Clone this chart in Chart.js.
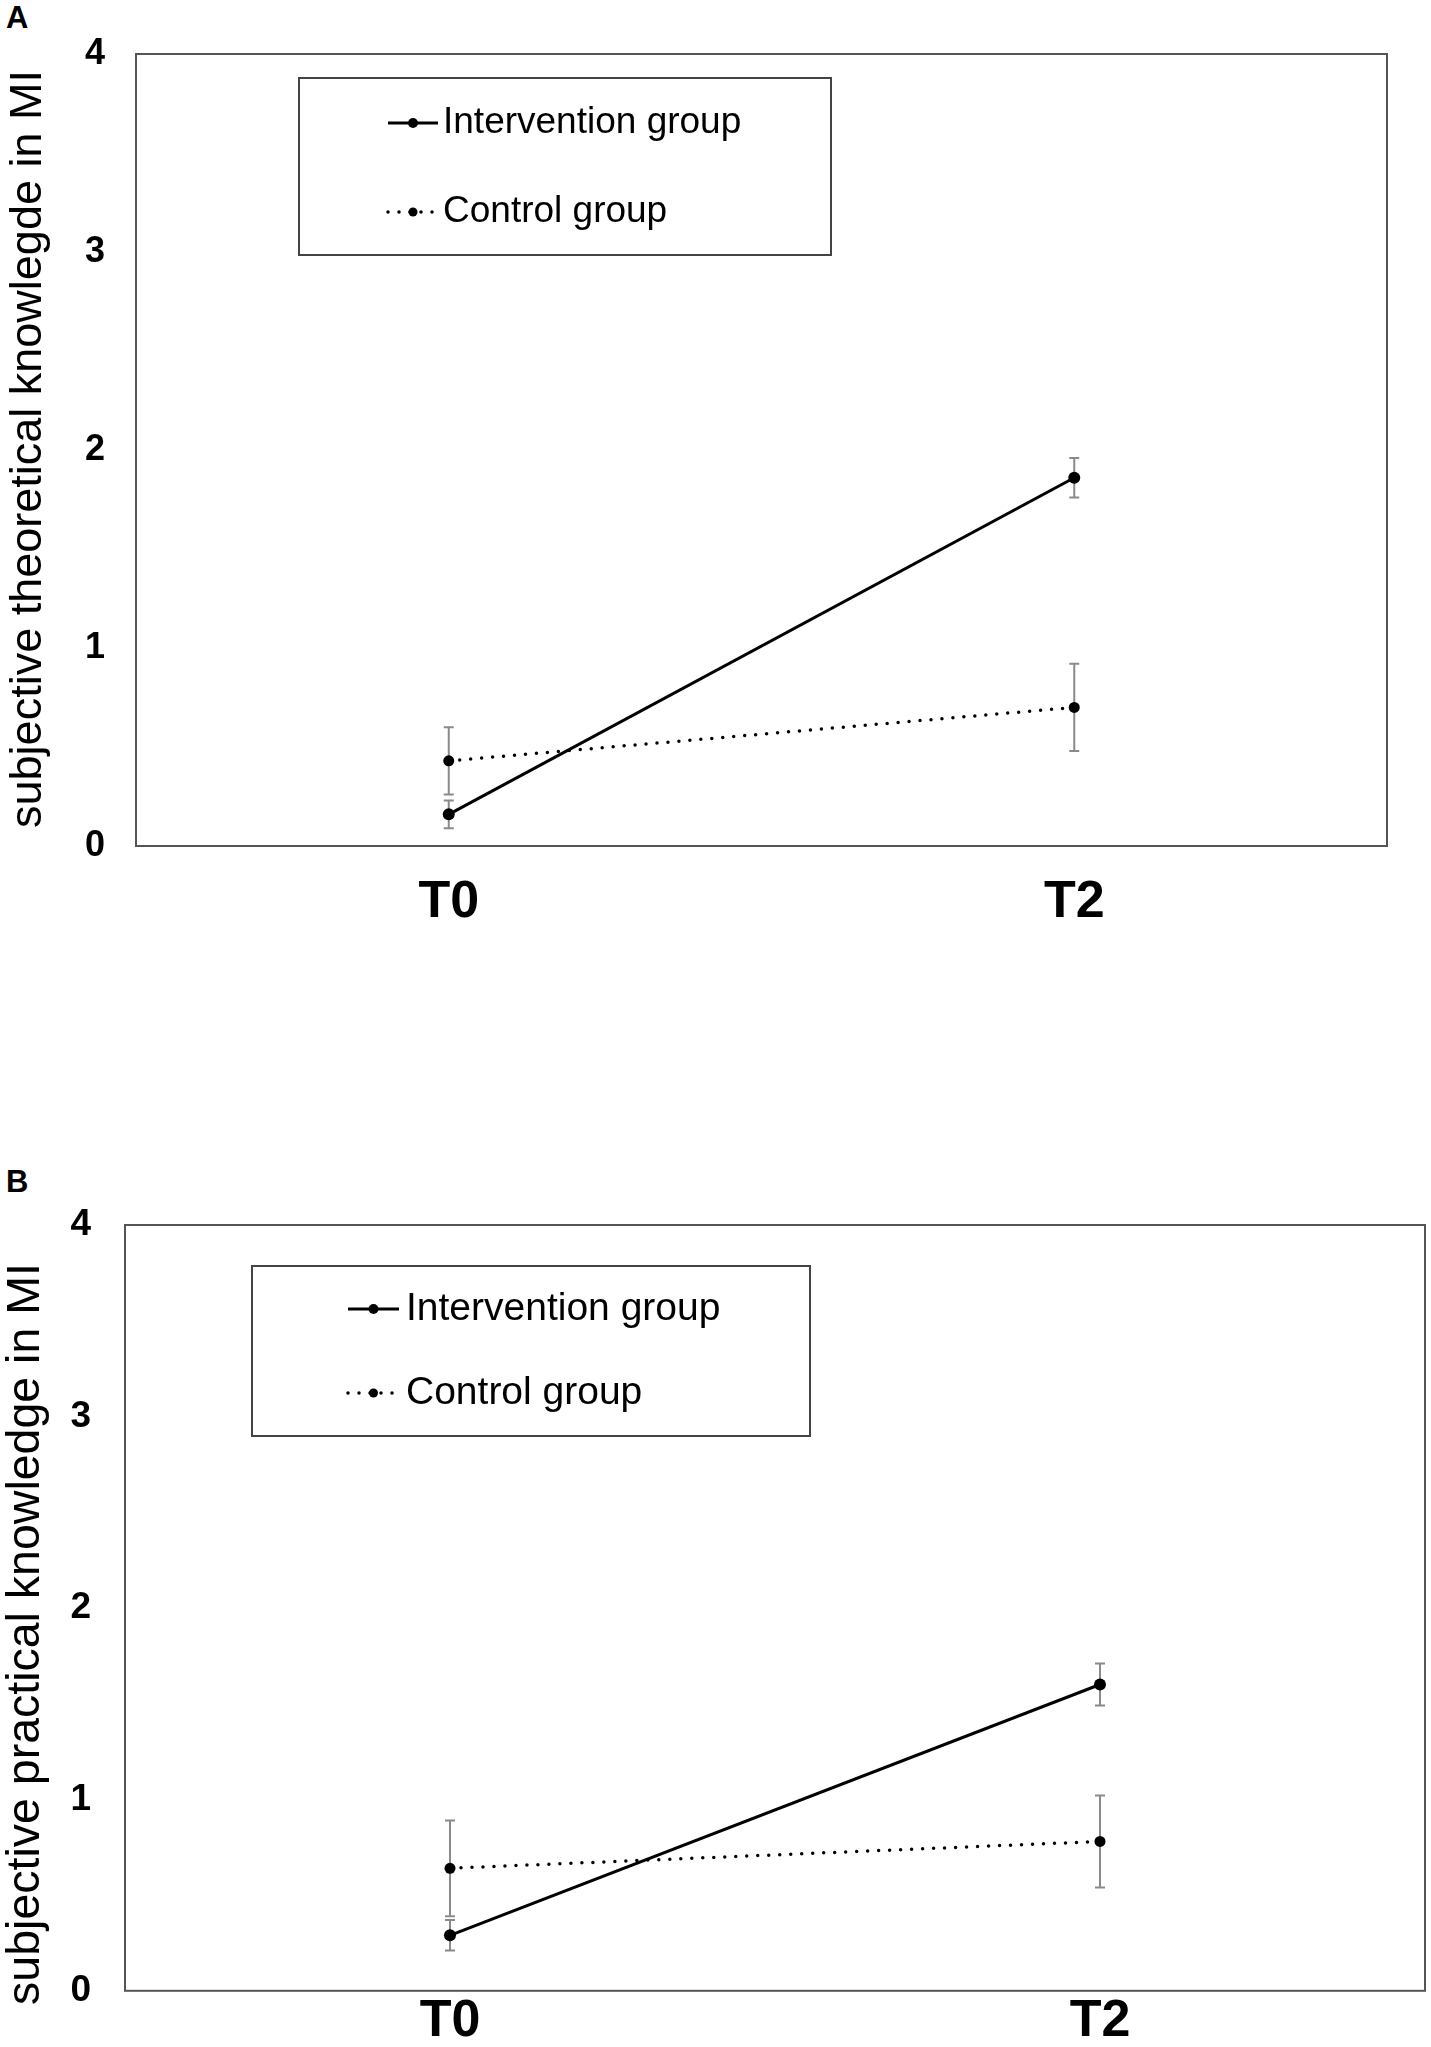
<!DOCTYPE html>
<html>
<head>
<meta charset="utf-8">
<script src="https://cdn.jsdelivr.net/npm/chart.js@4.4.1/dist/chart.umd.min.js"></script>
<style>
    body { margin: 0; background: #fff; width: 1431px; height: 2047px; position: relative; overflow: hidden; font-family: "Liberation Sans", Arial, sans-serif; }
    .panel { position: absolute; left: 0; width: 1431px; }
    .tag { position: absolute; left: 6px; font-weight: bold; font-size: 31px; color: #000; line-height: 1; }
</style>
</head>
<body>
<div class="tag" style="top:2px">A</div>
<div class="panel" style="top:0;height:960px"><canvas id="chartA"></canvas></div>
<div class="tag" style="top:1166px">B</div>
<div class="panel" style="top:1100px;height:947px"><canvas id="chartB"></canvas></div>

<script>
//Data
const categories = ['T0', 'T2'];
const yTicks = [0, 1, 2, 3, 4];
const seriesNames = ['Intervention group', 'Control group'];

const theoryIntervention = [0.16, 1.86];
const theoryInterventionErr = [0.07, 0.10];
const theoryControl = [0.43, 0.70];
const theoryControlErr = [0.17, 0.22];

const practiceIntervention = [0.29, 1.60];
const practiceInterventionErr = [0.08, 0.11];
const practiceControl = [0.64, 0.78];
const practiceControlErr = [0.25, 0.24];

const FONT = '"Liberation Sans", Arial, sans-serif';

//Error bars, drawn under the points
const errorBars = {
    id: 'errorBars',
    beforeDatasetsDraw(chart) {
        const ctx = chart.ctx;
        const y = chart.scales.y;
        ctx.save();
        ctx.strokeStyle = '#8a8a8a';
        ctx.lineWidth = 2;
        chart.data.datasets.forEach((ds, i) => {
            const meta = chart.getDatasetMeta(i);
            meta.data.forEach((pt, j) => {
                const top = y.getPixelForValue(ds.data[j] + ds.errors[j]);
                const bottom = y.getPixelForValue(ds.data[j] - ds.errors[j]);
                ctx.beginPath();
                ctx.moveTo(pt.x, top);
                ctx.lineTo(pt.x, bottom);
                ctx.moveTo(pt.x - 5, top);
                ctx.lineTo(pt.x + 5, top);
                ctx.moveTo(pt.x - 5, bottom);
                ctx.lineTo(pt.x + 5, bottom);
                ctx.stroke();
            });
        });
        ctx.restore();
    }
};

//Box round the plot area
const frame = {
    id: 'frame',
    afterDraw(chart) {
        const a = chart.chartArea;
        const ctx = chart.ctx;
        ctx.save();
        ctx.strokeStyle = '#555';
        ctx.lineWidth = 2;
        ctx.strokeRect(a.left, a.top, a.right - a.left, a.bottom - a.top);
        ctx.restore();
    }
};

//Legend inside the plot, with a border
const boxLegend = {
    id: 'boxLegend',
    afterDraw(chart, args, opts) {
        const a = chart.chartArea;
        const ctx = chart.ctx;
        const bx = a.left + opts.left;
        const by = a.top + opts.top;
        ctx.save();
        ctx.strokeStyle = '#444';
        ctx.lineWidth = 2;
        ctx.strokeRect(bx, by, opts.width, opts.height);
        chart.data.datasets.forEach((ds, i) => {
            const ly = by + opts.rows[i];
            const lx = bx + opts.lineStart;
            ctx.strokeStyle = ds.borderColor;
            ctx.lineWidth = ds.borderWidth;
            ctx.lineCap = ds.borderCapStyle || 'butt';
            ctx.setLineDash(ds.borderDash || []);
            ctx.beginPath();
            ctx.moveTo(lx, ly);
            ctx.lineTo(lx + opts.lineLen, ly);
            ctx.stroke();
            ctx.setLineDash([]);
            ctx.fillStyle = '#000';
            ctx.beginPath();
            ctx.arc(lx + opts.lineLen / 2, ly, ds.pointRadius - 1, 0, Math.PI * 2);
            ctx.fill();
            ctx.font = opts.size + 'px ' + FONT;
            ctx.textBaseline = 'middle';
            ctx.textAlign = 'left';
            ctx.fillText(ds.label, bx + opts.textStart, ly);
        });
        ctx.restore();
    }
};

//Rotated y title, placed by hand
const sideTitle = {
    id: 'sideTitle',
    afterDraw(chart, args, opts) {
        const ctx = chart.ctx;
        ctx.save();
        ctx.translate(opts.x, opts.y);
        ctx.rotate(-Math.PI / 2);
        ctx.font = opts.size + 'px ' + FONT;
        ctx.fillStyle = '#000';
        ctx.textAlign = 'center';
        ctx.textBaseline = 'middle';
        ctx.fillText(opts.text, 0, 0);
        ctx.restore();
    }
};

function makeChart(id, intervention, interventionErr, control, controlErr, setup) {
    const ctx = document.getElementById(id).getContext('2d');
    return new Chart(ctx, {
        type: 'line',
        data: {
            labels: categories,
            datasets: [{
                label: seriesNames[0],
                data: intervention,
                errors: interventionErr,
                borderColor: '#000',
                borderWidth: 3,
                pointRadius: 6,
                pointBackgroundColor: '#000',
                pointBorderWidth: 0
            }, {
                label: seriesNames[1],
                data: control,
                errors: controlErr,
                borderColor: '#000',
                borderWidth: 3.5,
                borderDash: [0, 11],
                borderCapStyle: 'round',
                pointRadius: 5.5,
                pointBackgroundColor: '#000',
                pointBorderWidth: 0
            }]
        },
        options: {
            responsive: true,
            maintainAspectRatio: false,
            animation: false,
            layout: { padding: setup.padding },
            scales: {
                x: {
                    type: 'category',
                    offset: true,
                    grid: { display: false, drawTicks: false },
                    border: { display: false },
                    ticks: { color: '#000', padding: setup.xPad, font: { family: FONT, size: 52, weight: 'bold' } },
                    afterFit(s) { s.height = setup.xHeight; }
                },
                y: {
                    min: 0,
                    max: 4,
                    grid: { display: false, drawTicks: false },
                    border: { display: false },
                    afterBuildTicks(s) { s.ticks = yTicks.map(v => ({ value: v })); },
                    ticks: { color: '#000', padding: setup.yPad, font: { family: FONT, size: setup.ySize, weight: 'bold' } },
                    afterFit(s) { s.width = setup.yWidth; }
                }
            },
            plugins: {
                legend: { display: false },
                tooltip: { enabled: false },
                boxLegend: setup.legend,
                sideTitle: setup.title
            }
        },
        plugins: [errorBars, frame, boxLegend, sideTitle]
    });
}

makeChart('chartA', theoryIntervention, theoryInterventionErr, theoryControl, theoryControlErr, {
    padding: { top: 54, right: 44, left: 0, bottom: 0 },
    xHeight: 114,
    xPad: 25,
    yWidth: 136,
    yPad: 31,
    ySize: 36,
    legend: { left: 163, top: 24, width: 532, height: 177, lineStart: 89, lineLen: 50, textStart: 144, rows: [45, 134], size: 37 },
    title: { text: 'subjective theoretical knowlegde in MI', x: 29, y: 449, size: 45 }
});

makeChart('chartB', practiceIntervention, practiceInterventionErr, practiceControl, practiceControlErr, {
    padding: { top: 125, right: 5, left: 0, bottom: 0 },
    xHeight: 50,
    xPad: 0,
    yWidth: 125,
    yPad: 34,
    ySize: 37,
    legend: { left: 127, top: 41, width: 558, height: 170, lineStart: 96, lineLen: 51, textStart: 154, rows: [43, 127], size: 39 },
    title: { text: 'subjective practical knowledge in MI', x: 26, y: 534, size: 46.5 }
});
</script>
</body>
</html>
